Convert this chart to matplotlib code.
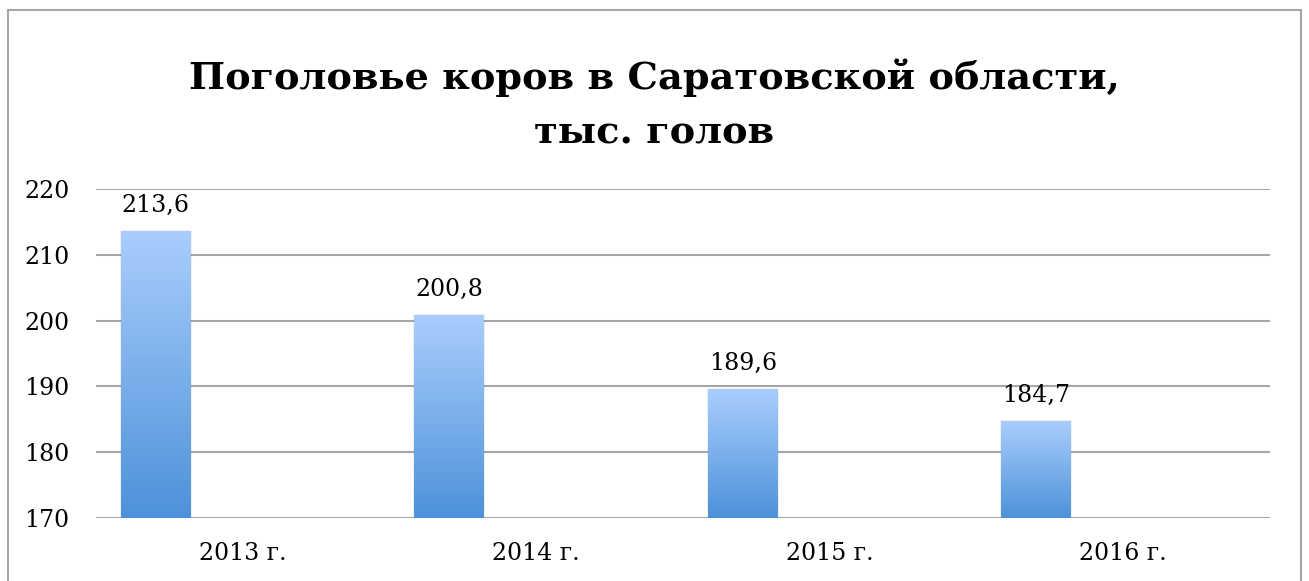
import numpy as np
from matplotlib import pyplot as plt
from matplotlib import patches
from matplotlib.colors import LinearSegmentedColormap

years = ["2013 г.", "2014 г.", "2015 г.", "2016 г."]
heads = [213.6, 200.8, 189.6, 184.7]
value_labels = ["213,6", "200,8", "189,6", "184,7"]
y_ticks = [170, 180, 190, 200, 210, 220]

W, H = 1309, 581
fig = plt.figure(figsize=(W / 100, H / 100), dpi=100)
fig.set_facecolor("w")

# outer chart frame (bottom edge is cut off in the picture)
fig.patches.append(
    patches.Rectangle(
        (8 / W, -0.05), 1293 / W, 1.05 - 10 / H,
        transform=fig.transFigure, fill=False, edgecolor="#a6a6a6", lw=1.5,
    )
)

fig.text(0.5, 1 - 78 / H, "Поголовье коров в Саратовской области,",
         ha="center", va="center", fontsize=27.5, fontweight="bold", family="DejaVu Serif")
fig.text(0.5, 1 - 133 / H, "тыс. голов",
         ha="center", va="center", fontsize=27.5, fontweight="bold", family="DejaVu Serif")

ax = fig.add_axes([96 / W, 1 - 518 / H, (1270 - 96) / W, (518 - 189) / H])
ymin, ymax = 170, 220

x = np.arange(len(years))
offset = -0.296
width = 0.238
bars = ax.bar(x + offset, np.array(heads) - ymin, width=width, bottom=ymin,
              color="none", edgecolor="none", zorder=3)

cmap = LinearSegmentedColormap.from_list("grad", ["#4d92d9", "#a9cdfd"])
grad = np.linspace(0, 1, 256).reshape(-1, 1)
for b, v, lab in zip(bars, heads, value_labels):
    x0 = b.get_x()
    # soft shadow
    ax.add_patch(patches.Rectangle((x0 - 0.004, ymin), width + 0.008, v - ymin + 0.15,
                                   facecolor="#000000", alpha=0.06, lw=0, zorder=2))
    im = ax.imshow(grad, cmap=cmap, origin="lower", aspect="auto",
                   extent=(x0, x0 + width, ymin, v), zorder=3)
    im.set_clip_path(b)
    ax.text(x0 + width / 2, v + 2.2, lab, ha="center", va="bottom",
            fontsize=17, family="DejaVu Serif")

ax.set_xlim(-0.5, len(years) - 0.5)
ax.set_ylim(ymin, ymax)
ax.set_yticks(y_ticks)
ax.set_yticklabels([str(t) for t in y_ticks], fontsize=17, family="DejaVu Serif")
ax.set_xticks(x)
ax.set_xticklabels(years, fontsize=17, family="DejaVu Serif")
ax.tick_params(length=0)
ax.tick_params(axis="y", pad=19)
ax.tick_params(axis="x", pad=17)
ax.grid(axis="y", color="#a6a6a6", lw=1.5, zorder=0)
ax.set_axisbelow(True)
for s in ax.spines.values():
    s.set_visible(False)

fig.savefig("out.png", dpi=100)
